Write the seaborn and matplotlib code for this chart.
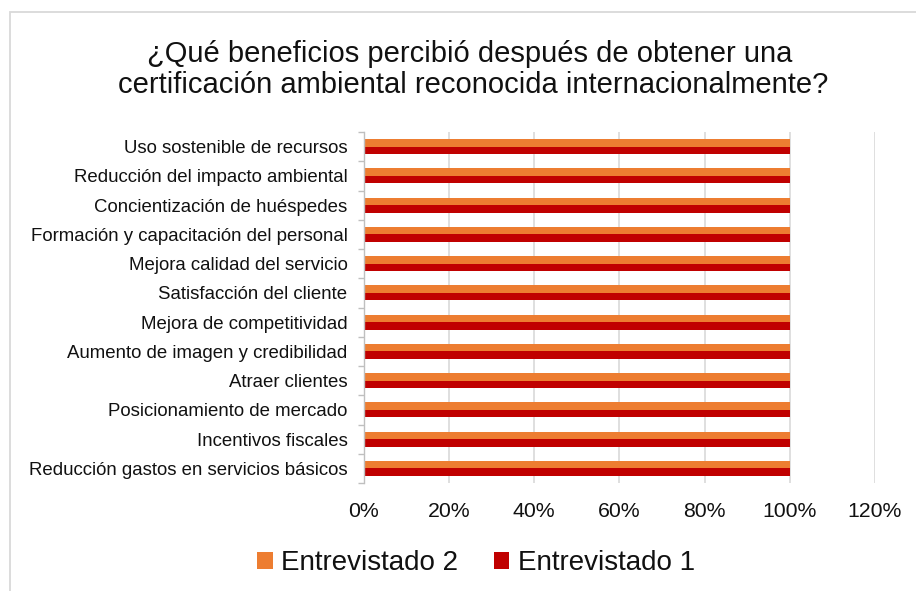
import matplotlib
matplotlib.use("Agg")
import matplotlib.pyplot as plt
import seaborn as sns
import pandas as pd
from matplotlib.patches import Patch, Rectangle
from matplotlib.ticker import PercentFormatter, FixedLocator

categories = [
    "Uso sostenible de recursos",
    "Reducción del impacto ambiental",
    "Concientización de huéspedes",
    "Formación y capacitación del personal",
    "Mejora calidad del servicio",
    "Satisfacción del cliente",
    "Mejora de competitividad",
    "Aumento de imagen y credibilidad",
    "Atraer clientes",
    "Posicionamiento de mercado",
    "Incentivos fiscales",
    "Reducción gastos en servicios básicos",
]
entrevistado_2 = [1.00, 1.00, 1.00, 1.00, 1.00, 1.00, 1.00, 1.00, 1.00, 1.00, 1.00, 1.00]
entrevistado_1 = [1.00, 1.00, 1.00, 1.00, 1.00, 1.00, 1.00, 1.00, 1.00, 1.00, 1.00, 1.00]
series_names = ["Entrevistado 2", "Entrevistado 1"]
colors = ["#ED7D31", "#C00000"]
title_lines = ["¿Qué beneficios percibió después de obtener una",
               "certificación ambiental reconocida internacionalmente?"]

df = pd.concat([
    pd.DataFrame({"cat": categories, "val": entrevistado_2, "serie": series_names[0]}),
    pd.DataFrame({"cat": categories, "val": entrevistado_1, "serie": series_names[1]}),
])

sns.set_style("white")
plt.rcParams["font.family"] = ["Liberation Sans", "DejaVu Sans"]
text_color = "#111111"
grid_color = "#D9D9D9"

fig = plt.figure(figsize=(9.16, 5.91), dpi=100)
W, H = 916, 591
ax = fig.add_axes([363.5 / W, 1 - 483 / H, (875 - 363.5) / W, (483 - 132) / H])

sns.barplot(data=df, y="cat", x="val", hue="serie", order=categories,
            hue_order=series_names, palette=colors, orient="h",
            width=0.51, saturation=1, ax=ax, legend=False, errorbar=None,
            linewidth=0)

ax.set_xlim(0, 1.2)
ax.set_ylim(len(categories) - 0.5, -0.5)
ax.set_xticks([0, 0.2, 0.4, 0.6, 0.8, 1.0, 1.2])
ax.xaxis.set_major_formatter(PercentFormatter(xmax=1, decimals=0))
ax.grid(axis="x", color=grid_color, linewidth=1.2)
ax.set_axisbelow(True)
ax.set_xlabel("")
ax.set_ylabel("")

for s in ["top", "right", "bottom"]:
    ax.spines[s].set_visible(False)
ax.spines["left"].set_color("#BFBFBF")
ax.spines["left"].set_linewidth(1.0)

ax.tick_params(axis="x", length=0, pad=13.5, labelsize=15.3, labelcolor=text_color)
ax.tick_params(axis="y", which="major", length=0, pad=11.5, labelsize=13.4, labelcolor=text_color)
ax.yaxis.set_minor_locator(FixedLocator([i - 0.5 for i in range(len(categories) + 1)]))
ax.tick_params(axis="y", which="minor", length=4, width=1, color="#BFBFBF", left=True)

fig.text(469.5 / W, 1 - 61.7 / H, title_lines[0], ha="center", va="baseline",
         fontsize=21.0, color=text_color)
fig.text(473 / W, 1 - 93.3 / H, title_lines[1], ha="center", va="baseline",
         fontsize=21.0, color=text_color)

handles = [Patch(facecolor=c, edgecolor="none", label=n) for c, n in zip(colors, series_names)]
fig.legend(handles=handles, loc="center", bbox_to_anchor=(476 / W, 1 - 563.5 / H), ncol=2,
           frameon=False, fontsize=20, handlelength=0.55, handleheight=0.55,
           handletextpad=0.3, columnspacing=1.3, labelcolor=text_color)

fig.patches.append(Rectangle((9.5 / W, -0.1), 1.2, 1 - 11.5 / H + 0.1, transform=fig.transFigure,
                             fill=False, edgecolor="#D9D9D9", linewidth=1.3))

fig.savefig("out.png", dpi=100)
